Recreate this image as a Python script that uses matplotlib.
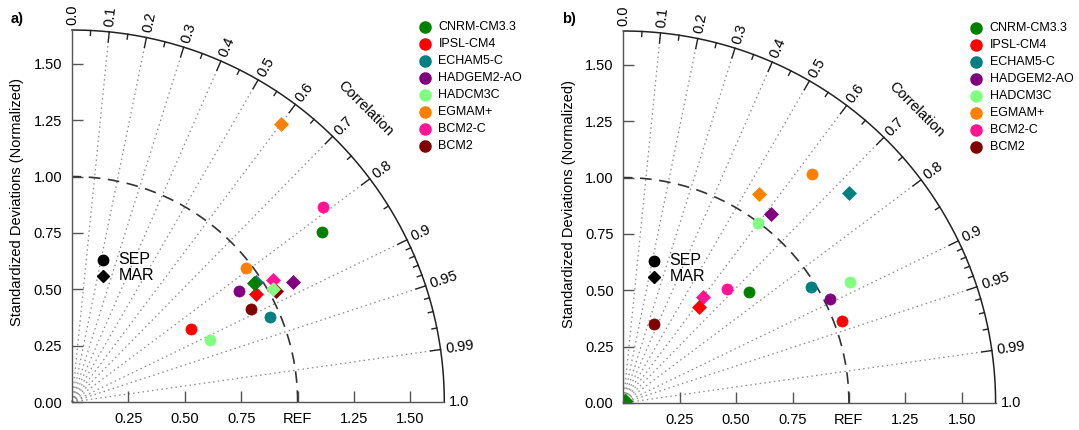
import numpy as np
import matplotlib
matplotlib.use("Agg")
import matplotlib.pyplot as plt

plt.rcParams['font.family'] = ['Liberation Sans', 'DejaVu Sans']

# ---------------- data ----------------
models = ['CNRM-CM3.3', 'IPSL-CM4', 'ECHAM5-C', 'HADGEM2-AO',
          'HADCM3C', 'EGMAM+', 'BCM2-C', 'BCM2']
colors = ['#008000', '#ff0000', '#008080', '#800080',
          '#80ff80', '#ff8000', '#ff1493', '#800000']

# panel a) normalized standard deviation and correlation
a_sep_std = [1.342, 0.620, 0.955, 0.891, 0.669, 0.972, 1.410, 0.893]
a_sep_cor = [0.827, 0.852, 0.919, 0.832, 0.912, 0.792, 0.789, 0.887]
a_mar_std = [0.965, 0.947, 0.974, 1.116, 1.021, 1.541, 1.044, 1.030]
a_mar_cor = [0.836, 0.863, 0.836, 0.879, 0.871, 0.600, 0.855, 0.879]

# panel b)
b_sep_std = [0.742, 1.036, 0.977, 1.026, 1.140, 1.314, 0.682, 0.376]
b_sep_cor = [0.750, 0.936, 0.851, 0.893, 0.883, 0.636, 0.674, 0.365]
b_mar_std = [0.012, 0.542, 1.364, 1.063, 0.995, 1.104, 0.587, np.nan]
b_mar_cor = [0.660, 0.622, 0.732, 0.615, 0.599, 0.546, 0.600, np.nan]
b_mar_shape = ['D', 'D', 'D', 'D', 'o', 'D', 'D', 'D']

std_ticks = [0.0, 0.25, 0.5, 0.75, 1.0, 1.25, 1.5]
y_tick_labels = ['0.00', '0.25', '0.50', '0.75', '1.00', '1.25', '1.50']
x_ticks = [0.25, 0.5, 0.75, 1.0, 1.25, 1.5]
x_tick_labels = ['0.25', '0.50', '0.75', 'REF', '1.25', '1.50']
cor_major = [0.0, 0.1, 0.2, 0.3, 0.4, 0.5, 0.6, 0.7, 0.8, 0.9, 0.95, 0.99, 1.0]
cor_major_labels = ['0.0', '0.1', '0.2', '0.3', '0.4', '0.5', '0.6', '0.7',
                    '0.8', '0.9', '0.95', '0.99', '1.0']
cor_minor = [0.05, 0.15, 0.25, 0.35, 0.45, 0.55, 0.65, 0.75, 0.85,
             0.91, 0.92, 0.93, 0.94, 0.96, 0.97, 0.98]
season_labels = ['SEP', 'MAR']

RMAX = 1.65
AX_COL = '#555555'

fig = plt.figure(figsize=(10.79, 4.30), dpi=100)
W, H = 1079.0, 430.0


def taylor(ax, sep_std, sep_cor, mar_std, mar_cor, mar_shape):
    ax.set_xlim(0, RMAX)
    ax.set_ylim(0, RMAX)
    for s in ['top', 'right']:
        ax.spines[s].set_visible(False)
    for s in ['left', 'bottom']:
        ax.spines[s].set_color(AX_COL)
        ax.spines[s].set_linewidth(1.0)
        ax.spines[s].set_zorder(3)
    ax.set_xticks(x_ticks)
    ax.set_xticklabels(x_tick_labels)
    ax.set_yticks(std_ticks)
    ax.set_yticklabels(y_tick_labels)
    ax.tick_params(direction='in', length=8, width=1.0, color=AX_COL,
                   labelsize=10.5, pad=7)
    ax.patch.set_alpha(0)

    th = np.linspace(0, np.pi / 2, 400)
    # outer arc
    ax.plot(RMAX * np.cos(th), RMAX * np.sin(th), color='#222222', lw=1.1,
            clip_on=False, zorder=3)
    # reference arc
    ax.plot(np.cos(th), np.sin(th), color='#333333', lw=1.2,
            ls=(0, (7, 4.5)), clip_on=False, zorder=2)
    # radial dotted lines and major ticks with labels
    for c, lab in zip(cor_major, cor_major_labels):
        t = np.arccos(c)
        ct, st = np.cos(t), np.sin(t)
        if 0.0 < c < 1.0:
            ax.plot([0, RMAX * ct], [0, RMAX * st], color='#8a8a8a', lw=0.9,
                    ls=(0, (1.2, 2.6)), zorder=1, clip_on=False)
            ax.plot([(RMAX - 0.045) * ct, RMAX * ct],
                    [(RMAX - 0.045) * st, RMAX * st],
                    color='#222222', lw=1.0, clip_on=False, zorder=3)
        rl = RMAX + 0.022
        ax.text(rl * ct, rl * st, lab, rotation=np.degrees(t),
                rotation_mode='anchor', ha='left', va='center',
                fontsize=10.5, clip_on=False)
    for c in cor_minor:
        t = np.arccos(c)
        ct, st = np.cos(t), np.sin(t)
        ax.plot([(RMAX - 0.022) * ct, RMAX * ct],
                [(RMAX - 0.022) * st, RMAX * st],
                color='#222222', lw=1.0, clip_on=False, zorder=3)
    # "Correlation" title along arc
    tc = np.radians(45.0)
    rc = 1.84
    ax.text(rc * np.cos(tc), rc * np.sin(tc), 'Correlation', rotation=-45,
            rotation_mode='anchor', ha='center', va='center', fontsize=10.5,
            clip_on=False)

    # data points
    n = len(models)
    for i in range(n):
        z = 10 + (n - i)
        s, c = sep_std[i], sep_cor[i]
        ax.plot(s * c, s * np.sqrt(1 - c * c), 'o', ms=8, color=colors[i],
                mec=colors[i], mew=0.5, zorder=z, clip_on=False)
    for i in range(n):
        s, c = mar_std[i], mar_cor[i]
        if np.isnan(s):
            continue
        x, y = s * c, s * np.sqrt(1 - c * c)
        shape = mar_shape[i]
        ms = 8 if shape == 'o' else 6.8
        if s < 0.05:
            ax.plot(x, y, shape, ms=ms, color=colors[i], mec=colors[i],
                    zorder=1.5, clip_on=True)
        else:
            z = 20 + (n - i)
            ax.plot(x, y, shape, ms=ms, color=colors[i], mec=colors[i],
                    mew=0.5, zorder=z, clip_on=False)

    # season legend
    ax.plot(0.137, 0.632, 'o', ms=7.5, color='black', clip_on=False, zorder=30)
    ax.plot(0.137, 0.560, 'D', ms=6.3, color='black', clip_on=False, zorder=30)
    ax.text(0.205, 0.632, season_labels[0], fontsize=11.5, va='center', ha='left')
    ax.text(0.205, 0.560, season_labels[1], fontsize=11.5, va='center', ha='left')

    # model legend
    lx, ly, dy = 1.563, 1.662, 0.075
    for i in range(n):
        ax.plot(lx, ly - i * dy, 'o', ms=8, color=colors[i], clip_on=False)
        ax.text(lx + 0.061, ly - i * dy, models[i], fontsize=9, va='center',
                ha='left', clip_on=False)


axw, axh = 372.3 / W, 372.0 / H
ax1 = fig.add_axes([72.0 / W, (H - 402.0) / H, axw, axh])
ax2 = fig.add_axes([623.3 / W, (H - 403.0) / H, axw, axh])

ident = ['D'] * len(models)
taylor(ax1, a_sep_std, a_sep_cor, a_mar_std, a_mar_cor, ident)
taylor(ax2, b_sep_std, b_sep_cor, b_mar_std, b_mar_cor, b_mar_shape)

ylab = 'Standardized Deviations (Normalized)'
fig.text(17.5 / W, 1 - 202.5 / H, ylab, rotation=90, ha='center', va='center',
         fontsize=10.5)
fig.text(569.0 / W, 1 - 203.5 / H, ylab, rotation=90, ha='center', va='center',
         fontsize=10.5)
fig.text(17.5 / W, 1 - 18.5 / H, 'a)', fontweight='bold', ha='center',
         va='center', fontsize=10.5)
fig.text(569.0 / W, 1 - 18.5 / H, 'b)', fontweight='bold', ha='center',
         va='center', fontsize=10.5)

fig.savefig('out.png', dpi=100)
